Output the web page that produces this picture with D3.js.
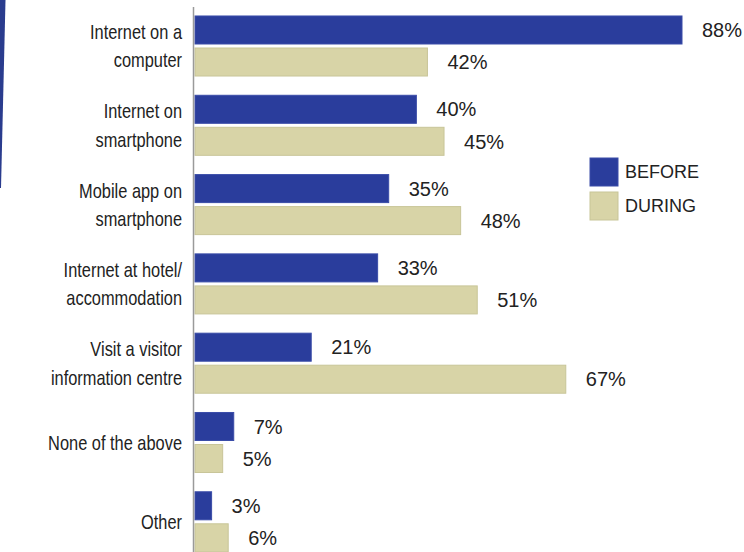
<!DOCTYPE html>
<html>
<head>
<meta charset="utf-8">
<script src="https://cdn.jsdelivr.net/npm/d3@7"></script>
<style>
  html, body { margin: 0; padding: 0; background: #fff; }
  svg { display: block; }
</style>
</head>
<body>
<svg id="chart" width="744" height="552"></svg>
<script>
// Information sources used before and during the trip (% of respondents)
const categories = [
  "Internet on a\ncomputer",
  "Internet on\nsmartphone",
  "Mobile app on\nsmartphone",
  "Internet at hotel/\naccommodation",
  "Visit a visitor\ninformation centre",
  "None of the above",
  "Other"
];
const seriesNames = ["BEFORE", "DURING"];
const before = [88, 40, 35, 33, 21, 7, 3];
const during = [42, 45, 48, 51, 67, 5, 6];

const colors = { BEFORE: "#2a3d9c", DURING: "#d8d4a7" };
const strokes = { BEFORE: "#3a4ca8", DURING: "#c8c598" };

const svg = d3.select("#chart");
const W = 744, H = 552;

const rows = categories.map((c, i) => ({ cat: c, BEFORE: before[i], DURING: during[i] }));

// Horizontal value scale: bars start at the axis line
const x = d3.scaleLinear().domain([0, 88]).range([195, 682]);

// Group band per category; the last group runs off the bottom edge
const y0 = d3.scaleBand()
  .domain(categories)
  .range([6.35, 6.35 + 79.3 * categories.length])
  .paddingInner(0.243)
  .paddingOuter(0.1215);

const y1 = d3.scaleBand()
  .domain(seriesNames)
  .range([0, y0.bandwidth()])
  .paddingInner(0.125);

// Decorative blue sliver along the left edge
svg.append("path")
  .attr("d", "M0,0 L5.5,0 L1,188 L0,188 Z")
  .attr("fill", "#2a3c8e");

const groups = svg.append("g").selectAll("g")
  .data(rows)
  .join("g")
  .attr("transform", d => `translate(0,${y0(d.cat)})`);

groups.selectAll("rect")
  .data(d => seriesNames.map(s => ({ s, v: d[s] })))
  .join("rect")
  .attr("x", x(0))
  .attr("y", d => y1(d.s))
  .attr("width", d => x(d.v) - x(0))
  .attr("height", y1.bandwidth())
  .attr("fill", d => colors[d.s])
  .attr("stroke", d => strokes[d.s])
  .attr("stroke-width", 1);

groups.selectAll("text.val")
  .data(d => seriesNames.map(s => ({ s, v: d[s] })))
  .join("text")
  .attr("class", "val")
  .attr("x", d => x(d.v) + 20)
  .attr("y", d => y1(d.s) + y1.bandwidth() / 2)
  .attr("dy", "0.36em")
  .attr("font-family", "'Liberation Sans', Arial, sans-serif")
  .attr("font-size", 20)
  .attr("fill", "#222")
  .text(d => d.v + "%");

// Vertical axis line
svg.append("line")
  .attr("x1", 193.5).attr("x2", 193.5)
  .attr("y1", 7).attr("y2", H)
  .attr("stroke", "#9a9a9a")
  .attr("stroke-width", 1.5);

// Category labels, right aligned next to the axis, set in a narrowed sans
const narrow = 0.82;
svg.append("g")
  .attr("transform", `translate(182,0) scale(${narrow},1)`)
  .selectAll("text")
  .data(categories)
  .join("text")
  .attr("text-anchor", "end")
  .attr("font-family", "'Liberation Sans', Arial, sans-serif")
  .attr("font-size", 20)
  .attr("fill", "#222")
  .each(function (c) {
    const lines = c.split("\n");
    const mid = y0(c) + y0.bandwidth() / 2;
    const lh = 28.5;
    const top = mid - (lines.length - 1) * lh / 2;
    d3.select(this).selectAll("tspan")
      .data(lines)
      .join("tspan")
      .attr("x", 0)
      .attr("y", (l, i) => top + i * lh)
      .attr("dy", "0.36em")
      .text(l => l);
  });

// Legend
const legend = svg.append("g").attr("transform", "translate(590,158)");
const li = legend.selectAll("g")
  .data(seriesNames)
  .join("g")
  .attr("transform", (d, i) => `translate(0,${i * 34})`);
li.append("rect")
  .attr("width", 28).attr("height", 28)
  .attr("fill", d => colors[d])
  .attr("stroke", d => strokes[d]);
li.append("text")
  .attr("x", 35)
  .attr("y", 14)
  .attr("dy", "0.36em")
  .attr("font-family", "'Liberation Sans', Arial, sans-serif")
  .attr("font-size", 18)
  .attr("fill", "#222")
  .text(d => d);
</script>
</body>
</html>
